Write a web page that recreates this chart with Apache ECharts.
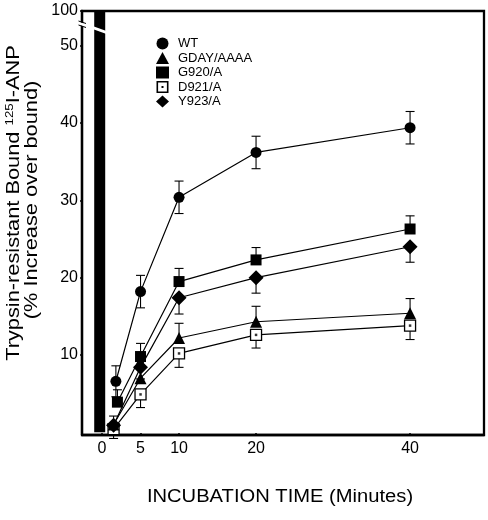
<!DOCTYPE html>
<html><head><meta charset="utf-8">
<script src="https://cdn.jsdelivr.net/npm/echarts@6/dist/echarts.min.js"></script>
<style>html,body{margin:0;padding:0;background:#fff}#c{width:488px;height:520px}</style>
</head><body><div id="c"></div>
<script>
const FONT = '"Liberation Sans", Arial, Helvetica, sans-serif';

// ---- data ----
const seriesNames = ['WT', 'GDAY/AAAA', 'G920/A', 'D921/A', 'Y923/A'];

const wtTime  = [1.8, 5, 10, 20, 40];
const wtValue = [6.6, 18.2, 30.4, 36.2, 39.4];
const wtErr   = [2.0, 2.1, 2.1, 2.1, 2.1];

const gdayTime  = [1.5, 5, 10, 20, 40];
const gdayValue = [1.0, 7.0, 12.2, 14.3, 15.4];
const gdayErr   = [1.1, 1.5, 1.9, 2.0, 1.9];

const g920Time  = [2, 5, 10, 20, 40];
const g920Value = [3.9, 9.8, 19.5, 22.3, 26.3];
const g920Err   = [1.6, 1.7, 1.7, 1.6, 1.7];

const d921Time  = [1.5, 5, 10, 20, 40];
const d921Value = [0.4, 4.9, 10.2, 12.6, 13.8];
const d921Err   = [1.2, 1.7, 1.8, 1.7, 1.8];

const y923Time  = [1.5, 5, 10, 20, 40];
const y923Value = [0.9, 8.4, 17.4, 20.0, 24.0];
const y923Err   = [1.2, 1.5, 2.1, 2.0, 2.0];

const barTime  = [-0.3];   // the off-scale column at time 0
const barValue = [100];

const xTickValues = [0, 5, 10, 20, 40];
const yTickValues = [10, 20, 30, 40, 50];
const yBreakTop = 54.5;    // top of the drawn scale, labelled 100
const yTopLabel = '100';

// ---- helpers ----
function pairs(t, v) { return t.map((x, i) => [x, v[i]]); }
function triples(t, v, e) { return t.map((x, i) => [x, v[i], e[i]]); }

function errSeries(t, v, e, dir) {
  return {
    type: 'custom', silent: true, z: 1,
    data: triples(t, v, e),
    renderItem: function (params, api) {
      const x = api.value(0), y = api.value(1), er = api.value(2);
      const p = api.coord([x, y]);
      const top = api.coord([x, y + er]);
      const bot = api.coord([x, y - er]);
      const cw = 4.5;
      const st = { stroke: '#000', lineWidth: 1.1 };
      const ch = [];
      if (dir === 'up' || dir === 'both') {
        ch.push({ type: 'line', shape: { x1: p[0], y1: p[1], x2: top[0], y2: top[1] }, style: st });
        ch.push({ type: 'line', shape: { x1: top[0] - cw, y1: top[1], x2: top[0] + cw, y2: top[1] }, style: st });
      }
      if (dir === 'down' || dir === 'both') {
        ch.push({ type: 'line', shape: { x1: p[0], y1: p[1], x2: bot[0], y2: bot[1] }, style: st });
        ch.push({ type: 'line', shape: { x1: bot[0] - cw, y1: bot[1], x2: bot[0] + cw, y2: bot[1] }, style: st });
      }
      return { type: 'group', children: ch };
    }
  };
}

function lineSeries(name, t, v, symbol, size, itemStyle) {
  return {
    name: name, type: 'line', z: 3,
    data: pairs(t, v),
    symbol: symbol, symbolSize: size, showAllSymbol: true,
    lineStyle: { color: '#000', width: 1.2 },
    itemStyle: Object.assign({ color: '#000', opacity: 1 }, itemStyle || {}),
    emphasis: { disabled: true }
  };
}

const openSquareIcon = 'path://M0,0L12,0L12,12L0,12Z M1.6,1.6L1.6,10.4L10.4,10.4L10.4,1.6Z M5,5L7,5L7,7L5,7Z';

const chart = echarts.init(document.getElementById('c'), null, { renderer: 'canvas' });
chart.setOption({
  animation: false,
  backgroundColor: '#fff',
  grid: { left: 82, top: 11, width: 402, height: 424, show: true, borderColor: '#000', borderWidth: 2.3, backgroundColor: 'transparent' },
  xAxis: {
    type: 'value', min: -2.6, max: 49.6,
    axisLine: { show: true, onZero: false, lineStyle: { color: '#000', width: 2.3 } },
    axisTick: { show: true, inside: true, length: 2, customValues: xTickValues, lineStyle: { color: '#000', width: 1.5 } },
    axisLabel: { customValues: xTickValues, color: '#000', fontSize: 16, fontFamily: FONT, margin: 6 },
    splitLine: { show: false }
  },
  yAxis: {
    type: 'value', min: -0.35, max: yBreakTop,
    axisLine: { show: true, onZero: false, lineStyle: { color: '#000', width: 2.3 } },
    axisTick: { show: true, length: 2, customValues: yTickValues.concat([yBreakTop]), lineStyle: { color: '#000', width: 1.5 } },
    axisLabel: {
      customValues: yTickValues.concat([yBreakTop]), color: '#000', fontSize: 16, fontFamily: FONT, margin: 4,
      formatter: v => (v >= yBreakTop - 0.01 ? yTopLabel : String(v))
    },
    splitLine: { show: false }
  },
  legend: {
    orient: 'vertical', left: 151, top: 32,
    itemWidth: 13, itemHeight: 12, itemGap: 1.5,
    textStyle: { color: '#000', fontSize: 13, fontFamily: FONT, padding: [0, 0, 0, 4] },
    selectedMode: false,
    data: [
      { name: 'WT', icon: 'circle', itemStyle: { color: '#000', borderWidth: 0 } },
      { name: 'GDAY/AAAA', icon: 'triangle', itemStyle: { color: '#000', borderWidth: 0 } },
      { name: 'G920/A', icon: 'rect', itemStyle: { color: '#000', borderWidth: 0 } },
      { name: 'D921/A', icon: openSquareIcon, itemStyle: { color: '#000', borderWidth: 0 } },
      { name: 'Y923/A', icon: 'diamond', itemStyle: { color: '#000', borderWidth: 0 } }
    ]
  },
  series: [
    { type: 'bar', z: 0, silent: true, data: pairs(barTime, barValue), barWidth: 11, clip: true, itemStyle: { color: '#000' } },
    errSeries(wtTime, wtValue, wtErr, 'both'),
    errSeries(gdayTime, gdayValue, gdayErr, 'up'),
    errSeries(g920Time, g920Value, g920Err, 'up'),
    errSeries(d921Time, d921Value, d921Err, 'down'),
    errSeries(y923Time, y923Value, y923Err, 'down'),
    lineSeries('D921/A', d921Time, d921Value, 'rect', 11, { color: '#fff', borderColor: '#000', borderWidth: 1.3 }),
    { type: 'scatter', z: 4, silent: true, data: pairs(d921Time, d921Value), symbol: 'rect', symbolSize: 2.5, itemStyle: { color: '#000' } },
    lineSeries('GDAY/AAAA', gdayTime, gdayValue, 'triangle', 12),
    lineSeries('Y923/A', y923Time, y923Value, 'diamond', 15),
    lineSeries('G920/A', g920Time, g920Value, 'rect', 11),
    lineSeries('WT', wtTime, wtValue, 'circle', 11)
  ],
  graphic: [
    // axis-break marks
    { type: 'polygon', z: 100, shape: { points: [[92.5, 26], [106.5, 31], [106.5, 34], [92.5, 29]] }, style: { fill: '#fff' } },
    { type: 'polygon', z: 100, shape: { points: [[78, 21.5], [87, 24.5], [87, 27.5], [78, 24.5]] }, style: { fill: '#fff' } },
    { type: 'line', z: 101, shape: { x1: 78.5, y1: 21, x2: 86, y2: 23.5 }, style: { stroke: '#000', lineWidth: 1 } },
    { type: 'line', z: 101, shape: { x1: 78.5, y1: 25, x2: 86, y2: 27.5 }, style: { stroke: '#000', lineWidth: 1 } },
    // y-axis title
    {
      type: 'text', x: 14, y: 203, rotation: Math.PI / 2, scaleX: 1.21, z: 100,
      style: {
        text: '{a|Trypsin-resistant Bound }{s|125}{a|I-ANP}',
        align: 'center', verticalAlign: 'middle', fill: '#000',
        rich: {
          a: { fontSize: 18, fontFamily: FONT, lineHeight: 20, fill: '#000' },
          s: { fontSize: 11, fontFamily: FONT, lineHeight: 12, verticalAlign: 'top', fill: '#000' }
        }
      }
    },
    {
      type: 'text', x: 32, y: 200, rotation: Math.PI / 2, scaleX: 1.21, z: 100,
      style: { text: '(% Increase over bound)', font: '18px ' + FONT, align: 'center', verticalAlign: 'middle', fill: '#000' }
    },
    // x-axis title
    {
      type: 'text', x: 280, y: 497, scaleX: 1.12, z: 100,
      style: { text: 'INCUBATION TIME (Minutes)', font: '18px ' + FONT, align: 'center', verticalAlign: 'middle', fill: '#000' }
    }
  ]
});
</script></body></html>
